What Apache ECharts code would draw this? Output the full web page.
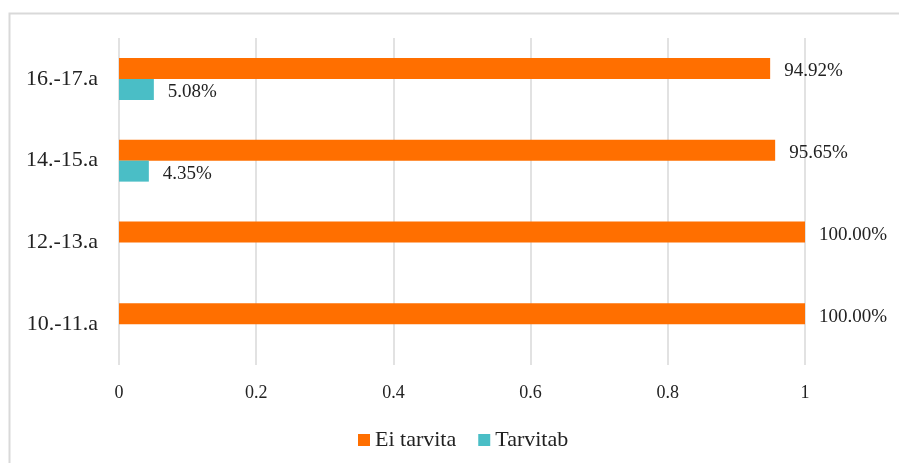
<!DOCTYPE html>
<html>
<head>
<meta charset="utf-8">
<script src="https://cdn.jsdelivr.net/npm/echarts@6/dist/echarts.min.js"></script>
<style>
  html, body { margin: 0; padding: 0; background: #fff; }
  #chart { width: 899px; height: 463px; }
</style>
</head>
<body>
<div id="chart"></div>
<script>
// data
const categories = ['10.-11.a', '12.-13.a', '14.-15.a', '16.-17.a'];
const eiTarvita = [1.0, 1.0, 0.9565, 0.9492];
const tarvitab = [null, null, 0.0435, 0.0508];
const xTicks = [0, 0.2, 0.4, 0.6, 0.8, 1];

const serif = '"Liberation Serif", "Times New Roman", serif';

const pct = p => (p.value * 100).toFixed(2) + '%';

var myChart = echarts.init(document.getElementById('chart'));
myChart.setOption({
  animation: false,
  textStyle: { fontFamily: serif, color: '#222' },
  graphic: [{
    type: 'rect',
    shape: { x: 9.5, y: 13.5, width: 900, height: 460 },
    style: { fill: 'none', stroke: '#D9D9D9', lineWidth: 2 },
    silent: true
  }],
  grid: { left: 119, right: 94, top: 38, bottom: 98 },
  legend: {
    top: 424,
    left: 353,
    itemWidth: 12,
    itemHeight: 12,
    itemGap: 22,
    icon: 'rect',
    textStyle: { fontFamily: serif, fontSize: 22, color: '#222' },
    data: ['Ei tarvita', 'Tarvitab']
  },
  xAxis: {
    type: 'value',
    min: xTicks[0],
    max: xTicks[xTicks.length - 1],
    interval: 0.2,
    axisLine: { show: false },
    axisTick: { show: false },
    axisLabel: { fontFamily: serif, fontSize: 18, color: '#222', margin: 19 },
    splitLine: { lineStyle: { color: '#D9D9D9', width: 1.5 } }
  },
  yAxis: {
    type: 'category',
    data: categories,
    axisLine: { show: false },
    axisTick: { show: false },
    axisLabel: { fontFamily: serif, fontSize: 22, color: '#222', margin: 21 }
  },
  series: [
    {
      name: 'Ei tarvita',
      type: 'bar',
      data: eiTarvita,
      barWidth: 21,
      barGap: '0%',
      itemStyle: { color: '#FF6F00' },
      label: {
        show: true, position: 'right', distance: 14, offset: [0, 3],
        fontFamily: serif, fontSize: 19, color: '#222',
        formatter: pct
      }
    },
    {
      name: 'Tarvitab',
      type: 'bar',
      data: tarvitab,
      barWidth: 21,
      barGap: '0%',
      itemStyle: { color: '#4ABEC6' },
      label: {
        show: true, position: 'right', distance: 14, offset: [0, 3],
        fontFamily: serif, fontSize: 19, color: '#222',
        formatter: pct
      }
    }
  ]
});
</script>
</body>
</html>
